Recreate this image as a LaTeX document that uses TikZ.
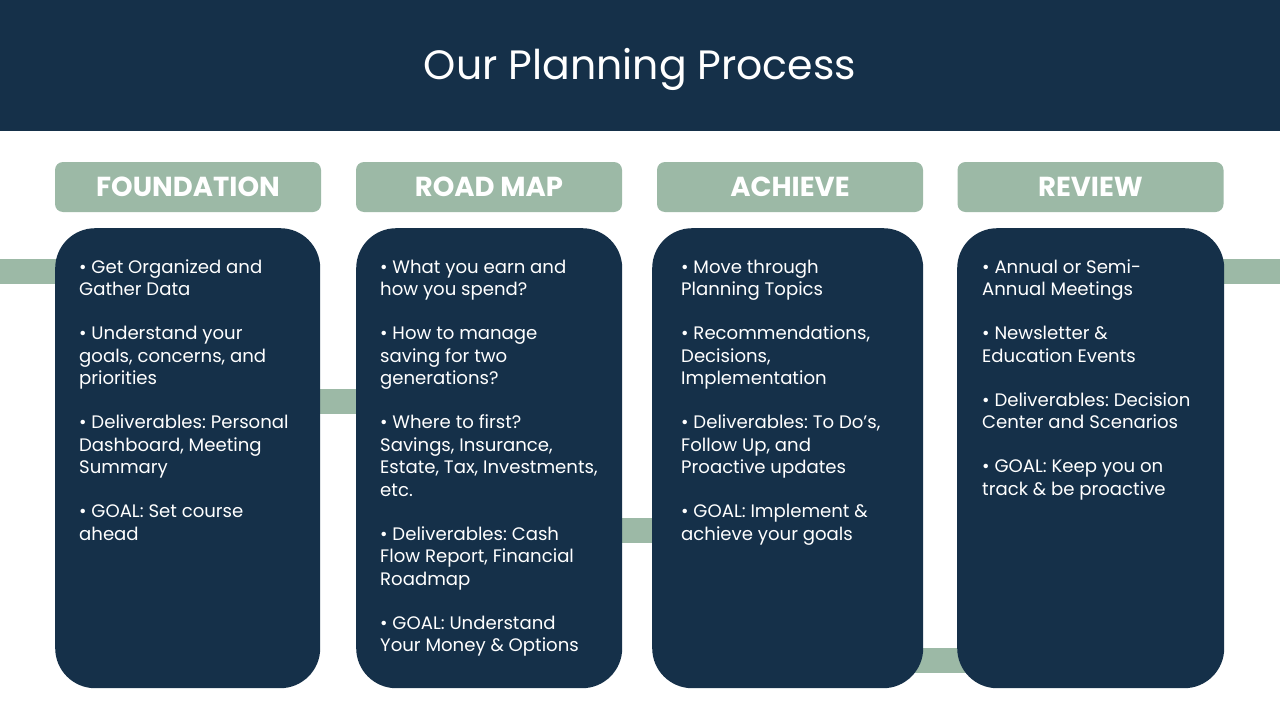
\documentclass[tikz,border=0pt]{standalone}
\usepackage{fontspec}
\setmainfont{Poppins}
\usetikzlibrary{backgrounds}
\frenchspacing

\definecolor{navy}{RGB}{21,48,73}
\definecolor{sage}{RGB}{156,185,166}
\newcommand{\pgap}{\\[21.5pt]}

\begin{document}
\begin{tikzpicture}[x=1pt,y=-1pt,
        head/.style={fill=sage,rounded corners=8pt,minimum width=266pt,minimum height=50pt,
            inner sep=0pt,text=white,font=\bfseries\fontsize{27.5}{27.5}\selectfont},
        card/.style={fill=navy,rounded corners=40pt,minimum height=460pt,anchor=north west},
        body/.style={text=white,align=left,anchor=north west,inner sep=0pt,
            font=\fontsize{18.1}{22.5}\selectfont},
        bar/.style={sage,line width=25pt}]
    \useasboundingbox (0,0) rectangle (1280,720);

    % title band
    \fill[navy] (0,0) rectangle (1280,131);
    \node[text=white,font=\fontsize{41}{41}\selectfont] (title) at (640,69) {Our Planning Process};

    % step headers
    \node[head] (h1) at (188,187) {FOUNDATION};
    \node[head] (h2) at (489,187) {ROAD MAP};
    \node[head] (h3) at (790,187) {ACHIEVE};
    \node[head] (h4) at (1090.5,187) {REVIEW};

    % cards
    \node[card,minimum width=265pt] (b1) at (55,228) {};
    \node[card,minimum width=266pt] (b2) at (356,228) {};
    \node[card,minimum width=271pt] (b3) at (652,228) {};
    \node[card,minimum width=267pt] (b4) at (957,228) {};

    \node[body] (t1) at (79,259.5) {%
        • Get Organized and\\Gather Data\pgap
        • Understand your\\goals, concerns, and\\priorities\pgap
        • Deliverables: Personal\\Dashboard, Meeting\\Summary\pgap
        • GOAL: Set course\\ahead};

    \node[body] (t2) at (380,259.5) {%
        • What you earn and\\how you spend?\pgap
        • How to manage\\saving for two\\generations?\pgap
        • Where to first?\\Savings, Insurance,\\Estate, Tax, Investments,\\etc.\pgap
        • Deliverables: Cash\\Flow Report, Financial\\Roadmap\pgap
        • GOAL: Understand\\Your Money \& Options};

    \node[body] (t3) at (681,259.5) {%
        • Move through\\Planning Topics\pgap
        • Recommendations,\\Decisions,\\Implementation\pgap
        • Deliverables: To Do’s,\\Follow Up, and\\Proactive updates\pgap
        • GOAL: Implement \&\\achieve your goals};

    \node[body] (t4) at (982,259.5) {%
        • Annual or Semi-\\Annual Meetings\pgap
        • Newsletter \&\\Education Events\pgap
        • Deliverables: Decision\\Center and Scenarios\pgap
        • GOAL: Keep you on\\track \& be proactive};

    % staircase behind the cards
    \coordinate (in) at (0,271.5);
    \coordinate (out) at (1280,271.5);
    \coordinate (s1) at (0,401);
    \coordinate (s2) at (0,530.5);
    \coordinate (s3) at (0,660.5);
    \begin{scope}[on background layer]
        \fill[white] (0,131) rectangle (1280,720);
        \draw[bar] (in) -- (in -| b1.center);
        \draw[bar] (s1 -| b1.center) -- (s1 -| b2.center);
        \draw[bar] (s2 -| b2.center) -- (s2 -| b3.center);
        \draw[bar] (s3 -| b3.center) -- (s3 -| b4.center);
        \draw[bar] (out -| b4.center) -- (out);
    \end{scope}
\end{tikzpicture}
\end{document}
